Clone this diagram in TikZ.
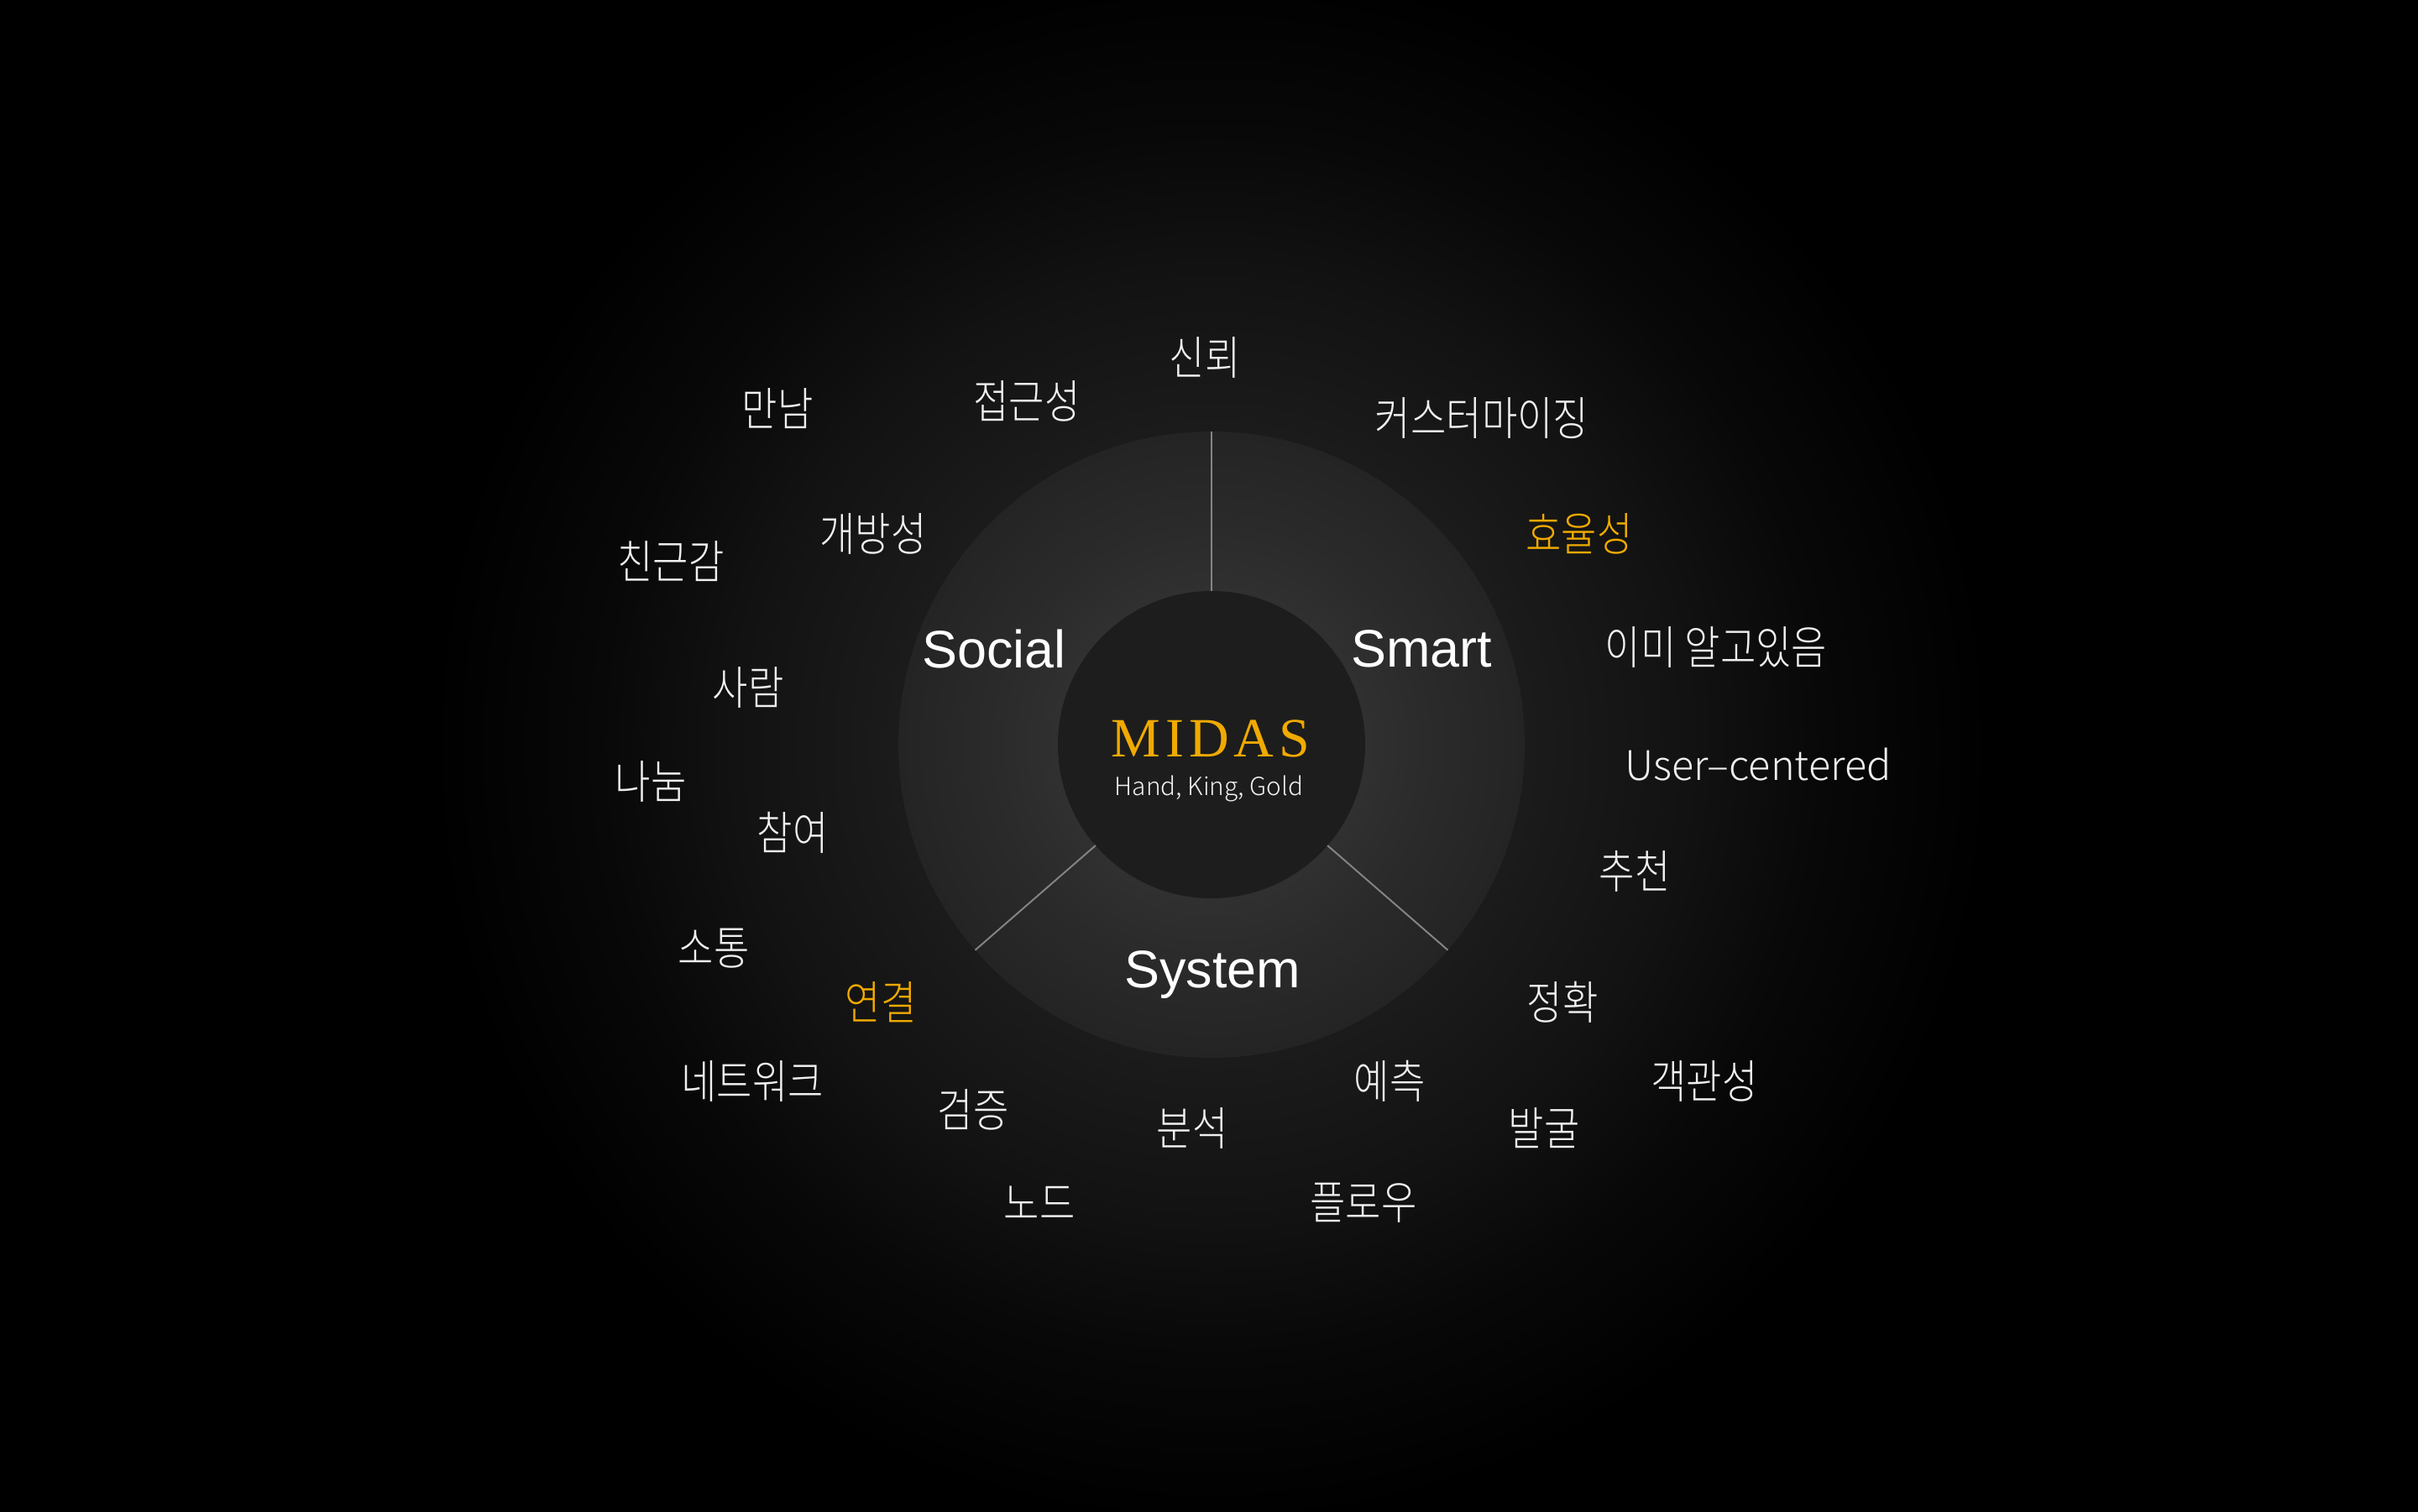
\documentclass[tikz,border=0pt]{standalone}
\usepackage{fontspec}
\setmainfont{Liberation Sans}
\IfFontExistsTF{Noto Sans CJK KR Light}
  {\newfontfamily\krfont[FakeStretch=0.84]{Noto Sans CJK KR Light}
   \newfontfamily\thinfont{Noto Sans CJK KR Light}}
  {\newfontfamily\krfont[FakeStretch=0.84]{Noto Sans CJK KR}
   \newfontfamily\thinfont{Liberation Sans}}
\newfontfamily\midasfont[LetterSpace=9]{Liberation Serif}
\usetikzlibrary{calc}
\usepackage{xcolor}
\definecolor{midasgold}{RGB}{240,170,0}
\definecolor{wordwhite}{HTML}{F0F0F0}
\definecolor{hubfill}{HTML}{1D1D1D}
\definecolor{spokegray}{HTML}{858585}
\definecolor{glowA}{HTML}{262626}
\definecolor{glowB}{HTML}{1B1B1B}
\definecolor{glowC}{HTML}{121212}
\definecolor{glowD}{HTML}{080808}
\definecolor{ringA}{HTML}{323232}
\definecolor{ringB}{HTML}{303030}
\definecolor{ringC}{HTML}{2A2A2A}
\definecolor{ringD}{HTML}{242424}
% radial shadings: the path edge sits at 25bp
\pgfdeclareradialshading{bgglow}{\pgfpoint{0bp}{0bp}}{color(0bp)=(glowA); color(10.1bp)=(glowB); color(15.3bp)=(glowC); color(19.6bp)=(glowD); color(25bp)=(black); color(50bp)=(black)}
\pgfdeclareradialshading{ringglow}{\pgfpoint{0bp}{0bp}}{color(0bp)=(ringA); color(12.3bp)=(ringB); color(18bp)=(ringC); color(25bp)=(ringD); color(50bp)=(ringD)}
\tikzset{
  word/.style={font=\krfont\fontsize{15.6}{18}\selectfont, text=wordwhite, inner sep=0pt},
  keyword/.style={word, text=midasgold},
  latin/.style={font=\thinfont\fontsize{13.8}{17}\selectfont, text=wordwhite, inner sep=0pt, text depth=0pt},
  pillar/.style={font=\fontsize{17.9}{21}\selectfont, text=white, inner sep=0pt, text depth=0pt},
  spoke/.style={draw=spokegray, line width=0.55pt},
}

\begin{document}
\begin{tikzpicture}
  \useasboundingbox (0,0) rectangle (28.8,18);
  % backdrop
  \fill[black] (-0.1,-0.1) rectangle (28.9,18.1);
  \coordinate (c) at (14.43,9.13);
  \shade[shading=bgglow] (c) circle (9.3);

  % ring and hub
  \node[circle, minimum size=7.46cm, inner sep=0pt, outer sep=0pt, shade, shading=ringglow] (ring) at (c) {};
  \node[circle, minimum size=3.66cm, inner sep=0pt, outer sep=0pt, fill=hubfill] (hub) at (c) {};

  % spokes
  \draw[spoke] (hub.90) -- (ring.90);
  \draw[spoke] (hub.221) -- (ring.221);
  \draw[spoke] (hub.319) -- (ring.319);

  % centre
  \node[font=\midasfont\fontsize{18.8}{22}\selectfont, text=midasgold, inner sep=0pt, text depth=0pt] (midas) at (14.42,9.205) {MIDAS};
  \node[font=\thinfont\fontsize{8.45}{10}\selectfont, text=wordwhite, inner sep=0pt, text depth=0pt] (motto) at (14.40,8.64) {Hand, King, Gold};

  % pillars
  \node[pillar] (social) at (11.84,10.27) {Social};
  \node[pillar] (smart) at (16.93,10.27) {Smart};
  \node[pillar] (system) at (14.44,6.45) {System};

  % keywords
  \node[word] (sinroe) at (14.35,13.74) {신뢰};
  \node[word] (jeopgeun) at (12.23,13.22) {접근성};
  \node[word] (mannam) at (9.26,13.13) {만남};
  \node[word] (custom) at (17.65,13.02) {커스터마이징};
  \node[keyword] (hyoyul) at (18.81,11.64) {효율성};
  \node[word] (gaebang) at (10.40,11.64) {개방성};
  \node[word] (chingeun) at (7.99,11.31) {친근감};
  \node[word] (imi) at (20.44,10.29) {이미 알고있음};
  \node[word] (saram) at (8.91,9.81) {사람};
  \node[latin] (usercent) at (20.94,8.90) {User–centered};
  \node[word] (nanum) at (7.75,8.69) {나눔};
  \node[word] (chamyeo) at (9.44,8.08) {참여};
  \node[word] (chucheon) at (19.47,7.62) {추천};
  \node[word] (sotong) at (8.50,6.70) {소통};
  \node[keyword] (yeongyeol) at (10.49,6.06) {연결};
  \node[word] (jeonghwak) at (18.61,6.06) {정확};
  \node[word] (network) at (8.96,5.12) {네트워크};
  \node[word] (yecheuk) at (16.55,5.12) {예측};
  \node[word] (gaekgwan) at (20.30,5.12) {객관성};
  \node[word] (geomjeung) at (11.59,4.78) {검증};
  \node[word] (bunseok) at (14.20,4.56) {분석};
  \node[word] (balgul) at (18.39,4.56) {발굴};
  \node[word] (nodeword) at (12.38,3.67) {노드};
  \node[word] (flow) at (16.24,3.67) {플로우};
\end{tikzpicture}
\end{document}
